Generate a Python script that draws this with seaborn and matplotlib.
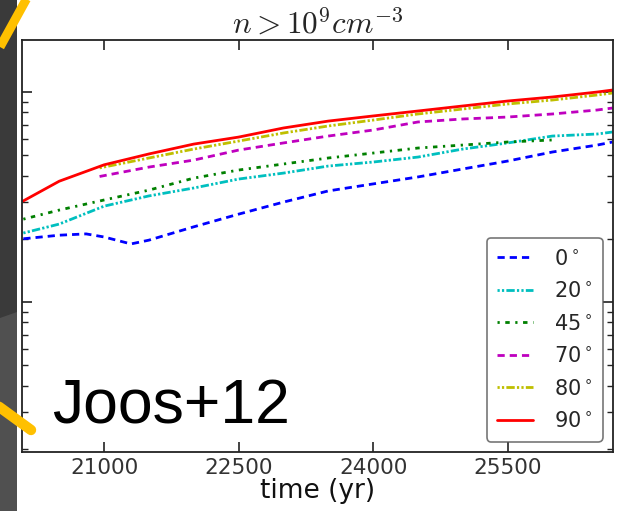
import matplotlib
matplotlib.use("Agg")
import matplotlib.pyplot as plt
from matplotlib.lines import Line2D
from matplotlib.patches import Polygon, Rectangle
import seaborn as sns
import numpy as np
import pandas as pd

# ---------------- data ----------------
time_full = [20100, 20500, 21000, 21500, 22000, 22500, 23000, 23500,
             24000, 24500, 25000, 25500, 26000, 26500, 26670]
red_90 = [0.0303, 0.0376, 0.0450, 0.0507, 0.0565, 0.0610, 0.0674, 0.0727,
          0.0769, 0.0812, 0.0858, 0.0906, 0.0947, 0.1000, 0.1022]

time_late = [20950, 21500, 22000, 22500, 23000, 23500, 24000, 24500,
             25000, 25500, 26000, 26500, 26670]
yellow_80 = [0.0435, 0.0485, 0.0535, 0.0584, 0.0638, 0.0689, 0.0735,
             0.0786, 0.0830, 0.0877, 0.0916, 0.0968, 0.0989]
magenta_70 = [0.0396, 0.0439, 0.0474, 0.0529, 0.0572, 0.0617, 0.0659,
              0.0720, 0.0744, 0.0760, 0.0786, 0.0821, 0.0839]

time_green = [20100, 20500, 21000, 21500, 22000, 22500, 23000, 23500,
              24000, 24500, 25000, 25500, 26000]
green_45 = [0.0248, 0.0274, 0.0306, 0.0341, 0.0389, 0.0425, 0.0454, 0.0485,
            0.0512, 0.0541, 0.0559, 0.0578, 0.0591]

cyan_20 = [0.0213, 0.0235, 0.0286, 0.0320, 0.0349, 0.0385, 0.0411, 0.0444,
           0.0464, 0.0490, 0.0535, 0.0572, 0.0617, 0.0631, 0.0645]

time_blue = [20100, 20500, 20800, 21000, 21300, 21500, 22000, 22500, 23000,
             23500, 24000, 24500, 25000, 25500, 26000, 26500, 26670]
blue_0 = [0.0200, 0.0208, 0.0211, 0.0204, 0.0189, 0.0197, 0.0228, 0.0262,
          0.0299, 0.0338, 0.0365, 0.0394, 0.0430, 0.0469, 0.0518, 0.0559,
          0.0578]

angle_labels = ["0", "20", "45", "70", "80", "90"]
x_ticks = [21000, 22500, 24000, 25500]

# ---------------- figure ----------------
sns.set_style("white")
plt.rcParams["font.family"] = ["DejaVu Sans"]
plt.rcParams["mathtext.fontset"] = "dejavusans"

fig = plt.figure(figsize=(6.17, 5.11), dpi=100)
fig.patch.set_facecolor("white")
W, H = 617, 511
ax = fig.add_axes([22 / W, 1 - 452 / H, 591 / W, 412 / H])

series = [
    (time_blue, blue_0, "#0000ff", (0, (2.6, 1.8))),
    (time_full, cyan_20, "#00bfbf", (0, (0.8, 0.8, 0.8, 0.8, 3.0, 0.8))),
    (time_green, green_45, "#008000", (0, (0.8, 2.0, 1.6, 2.0))),
    (time_late, magenta_70, "#bf00bf", (0, (2.6, 1.8))),
    (time_late, yellow_80, "#bfbf00", (0, (0.8, 0.8, 0.8, 0.8, 3.0, 0.8))),
    (time_full, red_90, "#ff0000", "-"),
]

for (t, v, col, ls), lab in zip(series, angle_labels):
    df = pd.DataFrame({"time": t, "val": v})
    sns.lineplot(data=df, x="time", y="val", ax=ax, color=col, lw=2.0,
                 linestyle=ls, estimator=None, label=lab + r"$^\circ$")

ax.set_yscale("log")
ax.set_xlim(20085, 26675)
ax.set_ylim(0.00193, 0.1769)
ax.set_xticks(x_ticks)
ax.set_xticklabels([str(x) for x in x_ticks])
ax.tick_params(axis="both", which="both", direction="in",
               top=True, right=True, left=True, bottom=True,
               labelleft=False, colors="#222222")
ax.tick_params(axis="both", which="major", length=7, width=1.2)
ax.tick_params(axis="both", which="minor", length=4, width=1.0)
ax.tick_params(axis="x", labelsize=15.5, labelcolor="#333333", pad=4)
for sp in ax.spines.values():
    sp.set_color("#222222")
    sp.set_linewidth(1.3)

ax.set_ylabel("")
ax.set_xlabel("time (yr)", fontsize=19, labelpad=0, color="#111111")
title = ax.set_title(r"$n >10^9 cm^{-3}$", fontsize=22.5, pad=3)
title.set_math_fontfamily("cm")

leg = ax.legend(loc="lower right", fontsize=15, frameon=True,
                handlelength=1.7, handletextpad=1.0, labelspacing=0.6,
                borderpad=0.5, borderaxespad=0.5, fancybox=True)
leg.get_frame().set_edgecolor("#555555")
leg.get_frame().set_linewidth(1.2)

# ---------------- slide decorations ----------------
fig.add_artist(Rectangle((0, 0), 17 / W, 1, transform=fig.transFigure,
                         facecolor="#3a3a3a", edgecolor="none", zorder=5))
fig.add_artist(Polygon([(0, 0), (17 / W, 0), (17 / W, 1 - 312 / H),
                        (0, 1 - 318 / H)], closed=True,
                       transform=fig.transFigure, facecolor="#505050",
                       edgecolor="none", zorder=6))
fig.add_artist(Line2D([0 / W, 27 / W], [1 - 47 / H, 1 + 2 / H],
                      transform=fig.transFigure, color="#ffc000", lw=6.5,
                      solid_capstyle="butt", zorder=7))
fig.add_artist(Line2D([-2 / W, 31 / W], [1 - 406 / H, 1 - 430 / H],
                      transform=fig.transFigure, color="#ffc000", lw=7.5,
                      solid_capstyle="round", zorder=7))

fig.text(52 / W, 1 - 423 / H, "Joos+12", fontsize=45,
         family=["Liberation Sans", "DejaVu Sans"], color="black",
         ha="left", va="baseline", zorder=8)

fig.savefig("out.png", dpi=100)
